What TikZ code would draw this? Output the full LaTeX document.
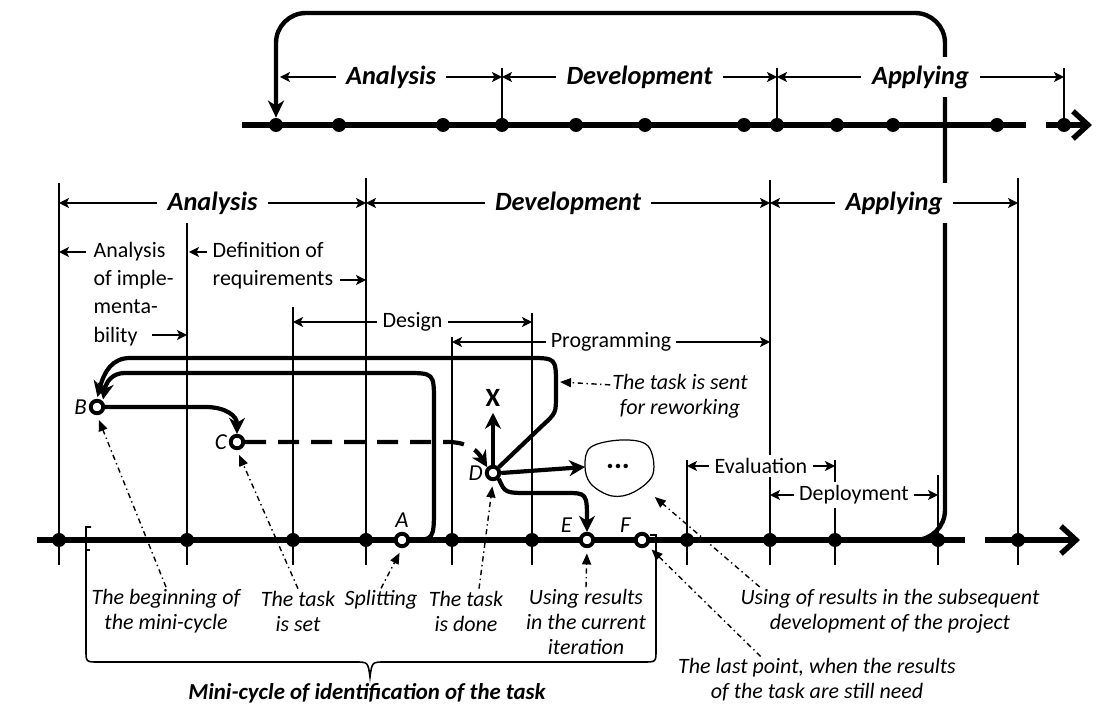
\documentclass[tikz,border=0pt]{standalone}
\usepackage{fontspec}
\setmainfont{Carlito}
\setsansfont{Carlito}
\usetikzlibrary{arrows.meta, positioning, calc}

\begin{document}
\begin{tikzpicture}[
    x=0.02cm, y=-0.02cm,
    axis/.style={line width=3.1pt},
    guide/.style={line width=0.8pt},
    dot/.style={circle, fill=black, inner sep=0pt, minimum size=0.28cm},
    pt/.style={circle, draw, line width=2.2pt, fill=white, inner sep=0pt,
               minimum size=0.25cm},
    span/.style={line width=0.8pt,
                 {Stealth[length=0.2cm,width=0.2cm,inset=0.05cm]}-{Stealth[length=0.2cm,width=0.2cm,inset=0.05cm]}},
    spanto/.style={line width=0.8pt, -{Stealth[length=0.2cm,width=0.2cm,inset=0.05cm]}},
    phase/.style={font=\fontsize{15}{18}\selectfont\bfseries\itshape,
                  fill=white, inner xsep=6pt, inner ysep=5pt},
    stage/.style={font=\fontsize{12.5}{16}\selectfont, fill=white,
                  inner xsep=3pt, inner ysep=2pt},
    flow/.style={line width=2.4pt,
                 -{Stealth[length=0.32cm,width=0.32cm,inset=0.1cm]}},
    pointer/.style={line width=0.8pt, dash dot, shorten >=3pt,
                    -{Triangle[length=0.22cm,width=0.18cm]}},
    note/.style={font=\fontsize{12.5}{14.2}\selectfont\itshape,
                 align=center, inner sep=1pt},
    letter/.style={font=\fontsize{13}{15}\selectfont\itshape, inner sep=1pt}
]
    \useasboundingbox (0,0) rectangle (1107,705);

    % guide lines of the phases
    \foreach \x/\t in {59/183, 187/220, 293/307, 366/178, 452/337, 532/313,
                       687/460, 770/180, 835/460, 938/475, 1018/178}
        \draw[guide] (\x,\t) -- (\x,565);
    \foreach \x in {502,777,1064}
        \draw[guide] (\x,68) -- (\x,125);

    % time axes
    \draw[axis] (242,125) -- (1026,125);
    \draw[axis, -{Straight Barb[length=0.3cm,width=0.55cm]}] (1046,125) -- (1092,125);
    \draw[axis] (37,540) -- (965,540);
    \draw[axis, -{Straight Barb[length=0.3cm,width=0.55cm]}] (985,540) -- (1080,540);

    \foreach \x [count=\i] in {276,339,443,502,576,645,744,777,837,893,997,1064}
        \node[dot] (td\i) at (\x,125) {};
    \foreach \x [count=\i] in {59,187,293,366,452,532,687,770,835,938,1018}
        \node[dot] (ld\i) at (\x,540) {};

    % results go back to the next cycle
    \coordinate (reuse) at (900,540);
    \draw[line width=2.5pt, rounded corners=0.6cm,
          -{Stealth[length=0.34cm,width=0.32cm,inset=0.1cm]}]
        (reuse) -- (945,540) -- (945,13) -- (276,13) -- (td1.north);

    % phases, upper axis
    \draw[span] (280,77) -- node[phase] (topAna) {Analysis} (502,77);
    \draw[span] (502,77) -- node[phase] (topDev) {Development} (777,77);
    \draw[span] (777,77) -- node[phase] (topApp) {Applying} (1064,77);

    % phases, lower axis
    \draw[span] (59,203) -- node[phase] (ana) {Analysis} (366,203);
    \draw[span] (366,203) -- node[phase] (dev) {Development} (770,203);
    \draw[span] (770,203) -- node[phase] (app) {Applying} (1018,203);

    \node[stage, fill=none, anchor=west, align=left] (implText) at (88,294)
        {Analysis\\of imple-\\menta-\\bility};
    \draw[spanto] (86,252) -- (59,252);
    \draw[spanto] (152,335) -- (187,335);
    \node[stage, fill=none, anchor=west, align=left] (reqText) at (207,266)
        {Definition of\\requirements};
    \draw[spanto] (207,252) -- (189,252);
    \draw[spanto] (340,280) -- (366,280);

    \draw[span] (293,322) -- node[stage] (design) {Design} (532,322);
    \draw[span] (452,342) -- node[stage] (prog) {Programming} (770,342);
    \draw[span] (687,466) -- node[stage] (eval) {Evaluation} (835,466);
    \draw[span] (770,495) -- node[stage] (deploy) {Deployment} (938,495);

    % points of the mini-cycle
    \node[pt] (ptB) at (97,407) {};
    \node[pt] (ptC) at (237,442) {};
    \node[pt] (ptD) at (493,473) {};
    \node[pt] (ptA) at (402,540) {};
    \node[pt] (ptE) at (587,540) {};
    \node[pt] (ptF) at (642,540) {};
    \node[letter, left=0pt of ptB] (labB) {B};
    \node[letter, left=0pt of ptC] (labC) {C};
    \node[letter, left=0pt of ptD] (labD) {D};
    \node[letter, above=1pt of ptA] (labA) {A};
    \node[letter, above left=0pt and 4pt of ptE] (labE) {E};
    \node[letter, above left=0pt and 2pt of ptF] (labF) {F};

    \node[minimum width=1.3cm, minimum height=1.05cm,
          font=\fontsize{17}{17}\selectfont\bfseries] (blob) at (618,467) {...};
    \draw[line width=0.7pt] plot[smooth cycle, tension=0.6] coordinates
        {(585,466) (591,447) (622,440) (648,446) (653,474) (634,492) (612,496) (591,484)};
    \node[font=\fontsize{15}{15}\selectfont\bfseries] (xmark) at (493,398) {X};

    % flow of the task
    \draw[flow] (ptB.east) -- (205,407) .. controls (226,407) and (237,416) .. (ptC.north);
    \draw[flow, dash pattern=on 0.42cm off 0.24cm] (ptC.east) -- (447,442)
        .. controls (470,442) and (478,452) .. (ptD.north west);
    \draw[flow, shorten >=1pt] (ptD.north east) -- (543,425) .. controls (556,413) .. (556,395)
        -- (556,385) .. controls (556,358) .. (529,358) -- (130,358)
        .. controls (112,358) and (104,372) .. (ptB.north);
    \draw[flow, shorten >=1pt] (ptA.east) .. controls (434,540) .. (434,506) -- (434,402)
        .. controls (434,373) .. (405,373) -- (125,373)
        .. controls (112,373) and (106,382) .. (ptB.north east);
    \draw[flow] (ptD.north) -- (xmark.south);
    \draw[flow] (ptD.east) -- (blob.west);
    \draw[flow] (ptD.south east) .. controls (505,493) .. (530,493) -- (565,493)
        .. controls (587,493) .. (ptE.north);

    % mini-cycle brace
    \draw[line width=0.9pt] (91,527) -- (86,527) -- (86,650) .. controls (86,662) .. (98,662)
        -- (355,662) .. controls (368,662) .. (370,677) .. controls (372,662) .. (385,662)
        -- (644,662) .. controls (656,662) .. (656,650) -- (656,535) -- (650,535);
    \draw[line width=0.9pt] (86,550) -- (90,550);
    \node[font=\fontsize{13}{15}\selectfont\bfseries\itshape] (cycleText) at (367,693)
        {Mini-cycle of identification of the task};

    % remarks
    \node[note] (noteBegin) at (166,611) {The beginning of\\the mini-cycle};
    \node[note] (noteSet) at (298,611) {The task\\is set};
    \node[note] (noteSplit) at (381,600) {Splitting};
    \node[note] (noteDone) at (466,611) {The task\\is done};
    \node[note] (noteUse) at (586,622) {Using results\\in the current\\iteration};
    \node[note] (noteNext) at (890,611) {Using of results in the subsequent\\development of the project};
    \node[note] (noteLast) at (817,680) {The last point, when the results\\of the task are still need};
    \node[note] (noteRework) at (680,396) {The task is sent\\for reworking};

    \draw[pointer] (noteBegin.north) -- (ptB.south);
    \draw[pointer] (noteSet.north) -- (ptC.south);
    \draw[pointer] (noteSplit.north) -- (ptA.south);
    \draw[pointer] ([xshift=0.26cm]noteDone.north) -- (ptD.south);
    \draw[pointer] (noteUse.north) -- (ptE.south);
    \draw[pointer] ($(noteNext.north west)!0.07!(noteNext.north east)$) -- (blob.south east);
    \draw[pointer] ($(noteLast.north west)!0.3!(noteLast.north east)$) -- (ptF.south east);
    \draw[pointer, shorten >=0pt] ([yshift=-0.26cm]noteRework.north west) -- (560,382);

\end{tikzpicture}
\end{document}
